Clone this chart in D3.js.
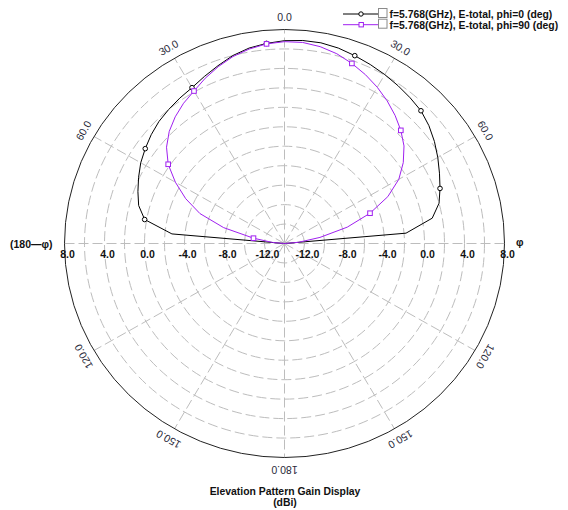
<!DOCTYPE html>
<html>
<head>
<meta charset="utf-8">
<script src="https://cdn.jsdelivr.net/npm/d3@7"></script>
<style>
  html, body { margin: 0; padding: 0; background: #fff; }
  svg { display: block; }
  text { font-family: Arial, "Liberation Sans", sans-serif; }
</style>
</head>
<body>
<svg id="chart" width="568" height="510"></svg>
<script>
// Elevation angle (deg) of every sample, front hemisphere
const thetaDeg = [-90,-85,-80,-75,-70,-65,-60,-55,-50,-45,-40,-35,-30,-25,-20,-15,-10,-5,
                  0,5,10,15,20,25,30,35,40,45,50,55,60,65,70,75,80,85,90];
// Gain (dBi), phi = 0 cut
const gainPhi0 = [-14,-2.7,0.2,1.1,1.6,2.1,2.6,3.0,3.4,3.75,4.0,4.25,4.5,4.95,5.45,6.0,6.4,6.65,
                  6.85,6.95,6.95,6.8,6.55,6.3,6.05,5.8,5.55,5.3,4.85,4.3,3.7,3.1,2.55,2.0,1.0,-1.8,-14];
// Gain (dBi), phi = 90 cut
const gainPhi90 = [-14,-12.8,-10.85,-7.7,-5.0,-3.1,-1.4,0.2,1.4,2.3,3.0,3.6,4.1,4.75,5.35,5.9,6.3,6.6,
                   6.75,6.75,6.55,6.2,5.7,5.15,4.55,3.9,3.2,2.45,1.6,0.5,-0.8,-2.6,-4.9,-7.5,-10.4,-12.6,-14];
// Samples that carry a marker
const markerThetas = [-80,-55,-30,-5,20,45,70];

const seriesNames = ["f=5.768(GHz), E-total, phi=0 (deg)", "f=5.768(GHz), E-total, phi=90 (deg)"];
const seriesColors = ["#000000", "#a020f0"];

// Radial axis
const radialDomain = [-14, 8];
const ringValues = [-12,-10,-8,-6,-4,-2,0,2,4,6];
const radialTickValues = [8,4,0,-4,-8,-12];
const radialTickText = ["8.0","4.0","0.0","-4.0","-8.0","-12.0"];

// Angular axis
const spokeAngles = [0,30,60,90,120,150,180,210,240,270,300,330];
const angleTickValues = [0,30,60,120,150,180,-30,-60,-120,-150];
const angleTickText = ["0.0","30.0","60.0","120.0","150.0","180.0","30.0","60.0","120.0","150.0"];

const svg = d3.select("#chart");
const cx = 284.5, cy = 243.5, rx = 220, ry = 214;

const rScale = d3.scaleLinear().domain(radialDomain).range([0, 1]).clamp(true);
const rad = d => d * Math.PI / 180;
const px = (th, g) => cx + rx * rScale(g) * Math.sin(rad(th));
const py = (th, g) => cy - ry * rScale(g) * Math.cos(rad(th));

const grid = svg.append("g");
// dashed rings
grid.selectAll("ellipse.ring").data(ringValues).join("ellipse")
  .attr("class", "ring")
  .attr("cx", cx).attr("cy", cy)
  .attr("rx", d => rx * rScale(d)).attr("ry", d => ry * rScale(d))
  .attr("fill", "none").attr("stroke", "#bdbdbd").attr("stroke-width", 1)
  .attr("stroke-dasharray", "10,4");
// spokes
grid.selectAll("line.spoke").data(spokeAngles).join("line")
  .attr("class", "spoke")
  .attr("x1", cx).attr("y1", cy)
  .attr("x2", d => px(d, radialDomain[1])).attr("y2", d => py(d, radialDomain[1]))
  .attr("stroke", "#bdbdbd").attr("stroke-width", 1)
  .attr("stroke-dasharray", "10,4");
// outer ring
grid.append("ellipse")
  .attr("cx", cx).attr("cy", cy).attr("rx", rx).attr("ry", ry)
  .attr("fill", "none").attr("stroke", "#222").attr("stroke-width", 1);

// radial tick labels on both sides of the horizontal axis
const tickG = svg.append("g")
  .attr("font-size", "10.5px").attr("font-weight", "bold").attr("fill", "#111")
  .attr("text-anchor", "middle");
[-90, 90].forEach(side => {
  tickG.selectAll(null).data(radialTickValues).join("text")
    .attr("x", d => px(side, d) + 3)
    .attr("y", cy + 14)
    .text((d, i) => radialTickText[i]);
});
svg.append("text").attr("x", 10).attr("y", cy + 4)
  .attr("font-size", "10.5px").attr("font-weight", "bold").attr("fill", "#111")
  .text("(180\u2014\u03c6)");
svg.append("text").attr("x", 516).attr("y", cy + 2)
  .attr("font-size", "10.5px").attr("font-weight", "bold").attr("fill", "#111")
  .text("\u03c6");

// angle labels, turned along the circle
const angG = svg.append("g").attr("font-size", "10.5px").attr("fill", "#2a2a3a")
  .attr("text-anchor", "middle");
angG.selectAll("text").data(angleTickValues).join("text")
  .attr("transform", d => {
    const x = cx + (rx + 12) * Math.sin(rad(d));
    const y = cy - (ry + 12) * Math.cos(rad(d));
    return `translate(${x},${y}) rotate(${d})`;
  })
  .attr("dy", "0.35em")
  .text((d, i) => angleTickText[i]);

// traces
const line = d3.line().x(d => px(d[0], d[1])).y(d => py(d[0], d[1]));
[gainPhi0, gainPhi90].forEach((g, s) => {
  const pts = thetaDeg.map((t, i) => [t, g[i]]);
  svg.append("path").datum(pts)
    .attr("d", line).attr("fill", "none")
    .attr("stroke", seriesColors[s]).attr("stroke-width", 1);
  const mk = pts.filter(p => markerThetas.includes(p[0]));
  if (s === 0) {
    svg.selectAll(null).data(mk).join("circle")
      .attr("cx", d => px(d[0], d[1])).attr("cy", d => py(d[0], d[1])).attr("r", 2.3)
      .attr("fill", "#fff").attr("stroke", seriesColors[s]).attr("stroke-width", 1);
  } else {
    svg.selectAll(null).data(mk).join("rect")
      .attr("x", d => px(d[0], d[1]) - 2.3).attr("y", d => py(d[0], d[1]) - 2.3)
      .attr("width", 4.6).attr("height", 4.6)
      .attr("fill", "#fff").attr("stroke", seriesColors[s]).attr("stroke-width", 1);
  }
});

// legend
const legend = svg.append("g");
seriesNames.forEach((name, i) => {
  const y = 14 + i * 10.7;
  legend.append("line").attr("x1", 343).attr("x2", 378).attr("y1", y).attr("y2", y)
    .attr("stroke", seriesColors[i]).attr("stroke-width", 1);
  if (i === 0) {
    legend.append("circle").attr("cx", 361).attr("cy", y).attr("r", 2.2)
      .attr("fill", "#fff").attr("stroke", seriesColors[i]);
  } else {
    legend.append("rect").attr("x", 359).attr("y", y - 2.2).attr("width", 4.4).attr("height", 4.4)
      .attr("fill", "#fff").attr("stroke", seriesColors[i]);
  }
  legend.append("rect").attr("x", 378.5).attr("y", y - 5.5).attr("width", 8.5).attr("height", 9)
    .attr("fill", "#fff").attr("stroke", "#8a8a8a").attr("stroke-width", 1);
  legend.append("text").attr("x", 389.5).attr("y", y + 3.8)
    .attr("font-size", "10.4px").attr("font-weight", "bold").attr("fill", "#111")
    .text(name);
});

// title
svg.append("text").attr("x", 285).attr("y", 495).attr("text-anchor", "middle")
  .attr("font-size", "10.4px").attr("font-weight", "bold").attr("fill", "#111")
  .text("Elevation Pattern Gain Display");
svg.append("text").attr("x", 285).attr("y", 506).attr("text-anchor", "middle")
  .attr("font-size", "10.4px").attr("font-weight", "bold").attr("fill", "#111")
  .text("(dBi)");
</script>
</body>
</html>
